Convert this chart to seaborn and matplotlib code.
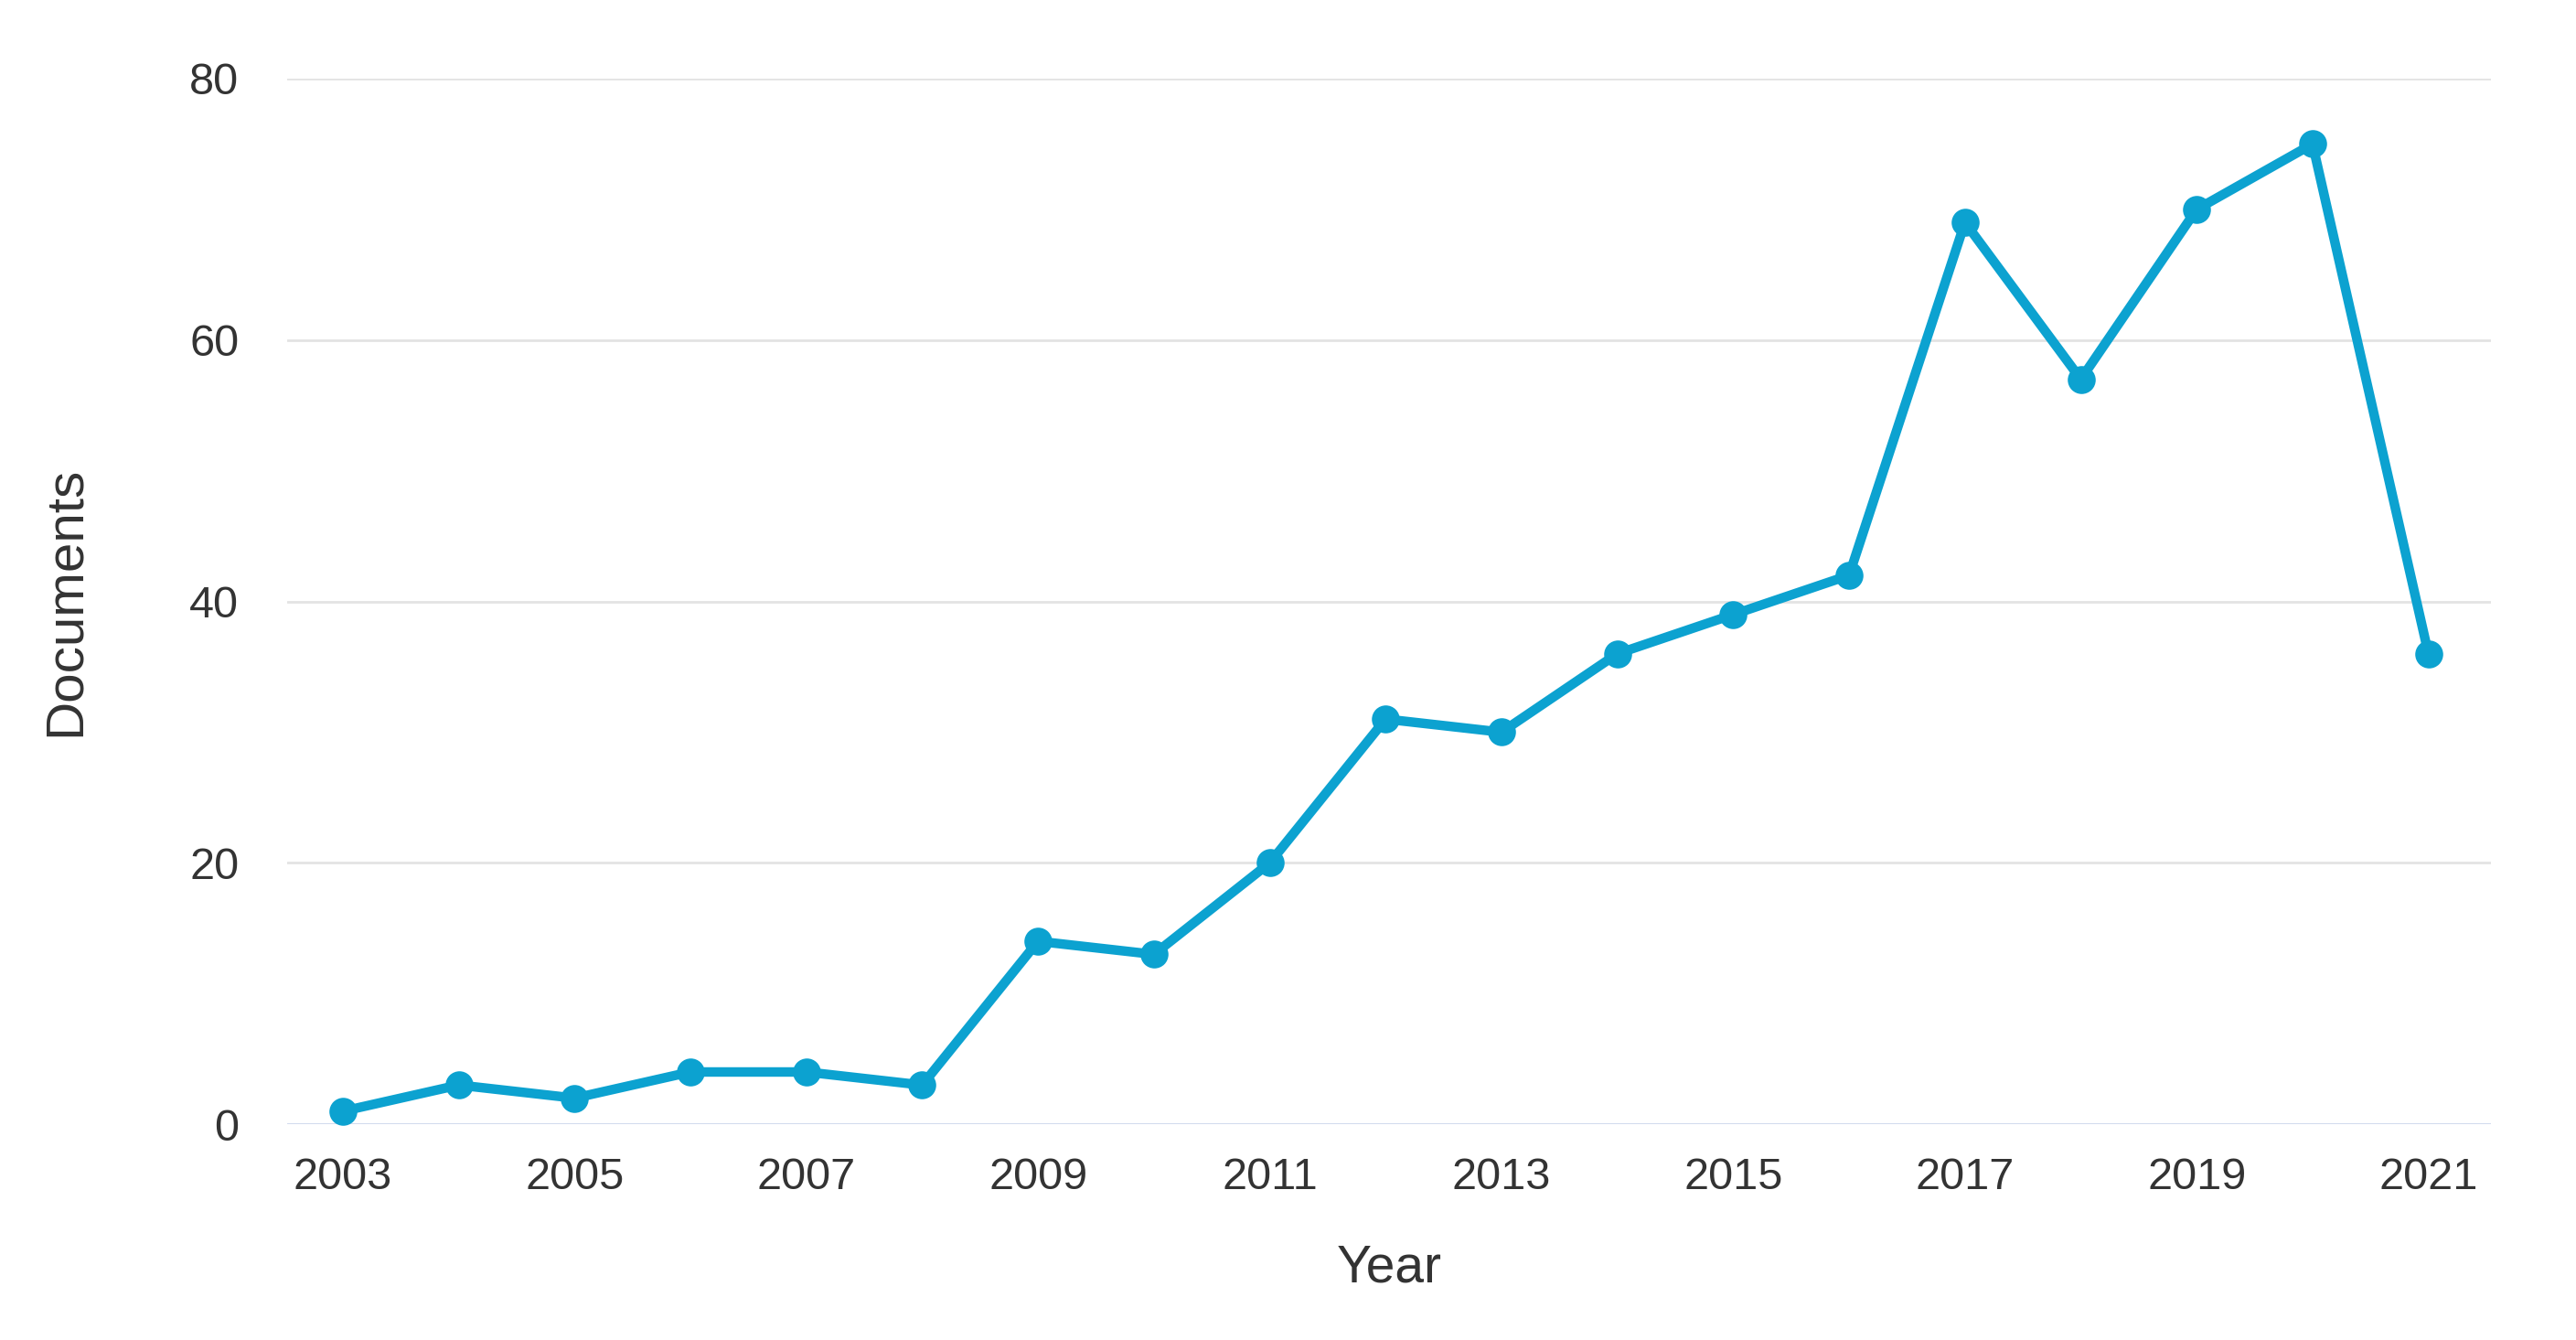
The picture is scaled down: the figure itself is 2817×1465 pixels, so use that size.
import pandas as pd
import matplotlib.pyplot as plt
import seaborn as sns

years = [2003, 2004, 2005, 2006, 2007, 2008, 2009, 2010, 2011, 2012,
         2013, 2014, 2015, 2016, 2017, 2018, 2019, 2020, 2021]
documents = [1, 3, 2, 4, 4, 3, 14, 13, 20, 31,
             30, 36, 39, 42, 69, 57, 70, 75, 36]
xtick_years = [2003, 2005, 2007, 2009, 2011, 2013, 2015, 2017, 2019, 2021]
ytick_vals = [0, 20, 40, 60, 80]

df = pd.DataFrame({'Year': years, 'Documents': documents})

sns.set_style('white')
plt.rcParams['font.family'] = ['Liberation Sans Narrow', 'Liberation Sans', 'DejaVu Sans']

fig = plt.figure(figsize=(28.17, 14.65), dpi=100)
ax = fig.add_axes([0.1115, 0.161, 0.8555, 0.7803])

line_col = '#0ca2d0'
sns.lineplot(data=df, x='Year', y='Documents', ax=ax, color=line_col,
             linewidth=7.5, marker='o', markersize=22, markeredgewidth=0,
             clip_on=False, zorder=3)

ax.set_xlim(2002.52, 2021.54)
ax.set_ylim(0, 80)
ax.set_xticks(xtick_years)
ax.set_yticks(ytick_vals)

# horizontal grid lines, bottom one bluish
for v in ytick_vals:
    ax.axhline(v, color='#ccd6eb' if v == 0 else '#e3e3e3', linewidth=2, zorder=1)

for s in ax.spines.values():
    s.set_visible(False)

ax.tick_params(axis='both', length=0, labelsize=35, labelcolor='#333333')
ax.tick_params(axis='x', pad=26)
ax.tick_params(axis='y', pad=38)

ax.set_xlabel('Year', fontsize=41, color='#333333')
ax.set_ylabel('Documents', fontsize=42, color='#333333')
ax.xaxis.set_label_coords(0.5, -0.138)
ax.xaxis.label.set_va('center')
ax.yaxis.set_label_coords(-0.1004, 0.5)
ax.yaxis.label.set_va('center')

fig.savefig('out.png', dpi=100, facecolor='white')
